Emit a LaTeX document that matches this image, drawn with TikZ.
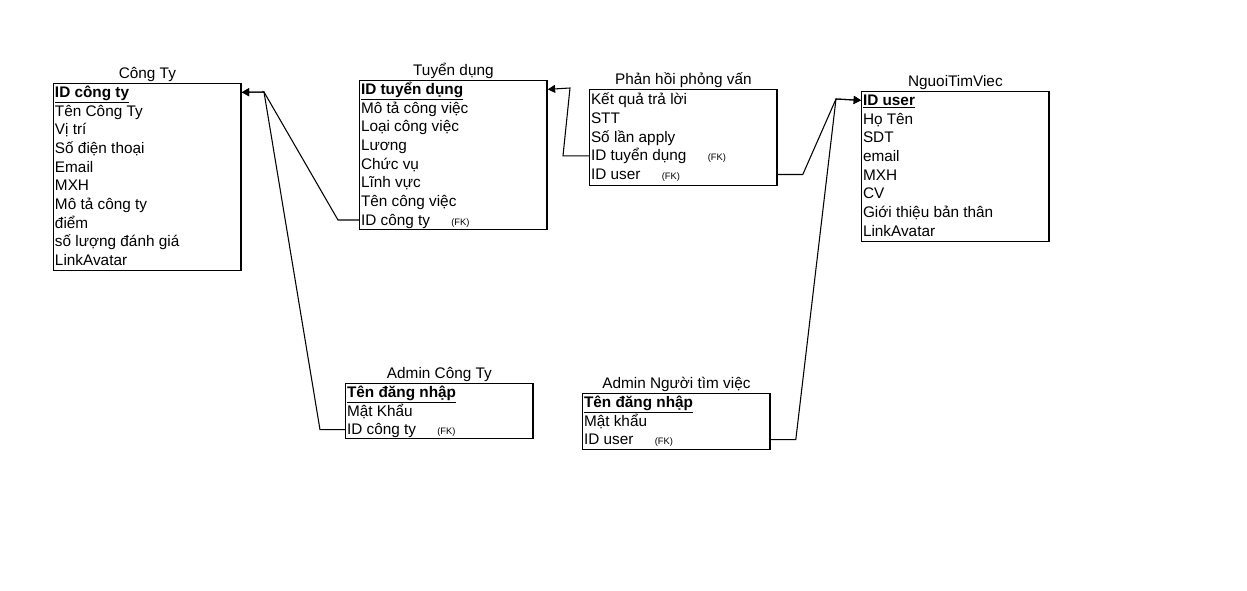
\documentclass[tikz,border=0pt]{standalone}
\usepackage{fontspec}
\setmainfont{Liberation Sans}
\usetikzlibrary{positioning, arrows.meta}
\newcommand{\fk}{\hspace{16pt}{\fontsize{7}{8}\selectfont(FK)}}
\newcommand{\pk}[1]{\underline{\textbf{#1}}}

\begin{document}
\begin{tikzpicture}[x=0.75pt, y=-0.75pt,
  table/.style={draw, line width=1pt, anchor=north west, inner sep=0pt, minimum width=140.6pt},
  title/.style={font=\fontsize{11.5}{13}\selectfont, inner sep=1pt},
  row/.style={anchor=north west, font=\fontsize{11.5}{13}\selectfont, inner xsep=1.5pt,
    inner ysep=1.75pt, outer sep=0pt, text height=9pt, text depth=1.5pt},
  link/.style={line width=0.8pt},
  ref/.style={link, -{Triangle[length=5.5pt, width=6pt]}}]

\useasboundingbox (0,0) rectangle (1247,590);

% Cong Ty
\node[table, minimum height=140.25pt] (ct) at (53,83) {};
\node[title] (ctt) [above=0pt of ct] {Công Ty};
\node[row] (ct1) at (ct.north west) {\pk{ID công ty}};
\node[row] (ct2) [below=0pt of ct1.south west, anchor=north west] {Tên Công Ty};
\node[row] (ct3) [below=0pt of ct2.south west, anchor=north west] {Vị trí};
\node[row] (ct4) [below=0pt of ct3.south west, anchor=north west] {Số điện thoại};
\node[row] (ct5) [below=0pt of ct4.south west, anchor=north west] {Email};
\node[row] (ct6) [below=0pt of ct5.south west, anchor=north west] {MXH};
\node[row] (ct7) [below=0pt of ct6.south west, anchor=north west] {Mô tả công ty};
\node[row] (ct8) [below=0pt of ct7.south west, anchor=north west] {điểm};
\node[row] (ct9) [below=0pt of ct8.south west, anchor=north west] {số lượng đánh giá};
\node[row] (ct10) [below=0pt of ct9.south west, anchor=north west] {LinkAvatar};

% Tuyen dung
\node[table, minimum height=111.75pt] (td) at (359,80) {};
\node[title] (tdt) [above=0pt of td] {Tuyển dụng};
\node[row] (td1) at (td.north west) {\pk{ID tuyển dụng}};
\node[row] (td2) [below=0pt of td1.south west, anchor=north west] {Mô tả công việc};
\node[row] (td3) [below=0pt of td2.south west, anchor=north west] {Loại công việc};
\node[row] (td4) [below=0pt of td3.south west, anchor=north west] {Lương};
\node[row] (td5) [below=0pt of td4.south west, anchor=north west] {Chức vụ};
\node[row] (td6) [below=0pt of td5.south west, anchor=north west] {Lĩnh vực};
\node[row] (td7) [below=0pt of td6.south west, anchor=north west] {Tên công việc};
\node[row] (td8) [below=0pt of td7.south west, anchor=north west] {ID công ty\fk};

% Phan hoi phong van
\node[table, minimum height=72pt] (ph) at (589,89) {};
\node[title] (pht) [above=0pt of ph] {Phản hồi phỏng vấn};
\node[row] (ph1) at ([yshift=-1.1pt]ph.north west) {Kết quả trả lời};
\node[row] (ph2) [below=0pt of ph1.south west, anchor=north west] {STT};
\node[row] (ph3) [below=0pt of ph2.south west, anchor=north west] {Số lần apply};
\node[row] (ph4) [below=0pt of ph3.south west, anchor=north west] {ID tuyển dụng\fk};
\node[row] (ph5) [below=0pt of ph4.south west, anchor=north west] {ID user\fk};

% NguoiTimViec
\node[table, minimum height=112.5pt] (ng) at (861,91) {};
\node[title] (ngt) [above=0pt of ng] {NguoiTimViec};
\node[row] (ng1) at (ng.north west) {\pk{ID user}};
\node[row] (ng2) [below=0pt of ng1.south west, anchor=north west] {Họ Tên};
\node[row] (ng3) [below=0pt of ng2.south west, anchor=north west] {SDT};
\node[row] (ng4) [below=0pt of ng3.south west, anchor=north west] {email};
\node[row] (ng5) [below=0pt of ng4.south west, anchor=north west] {MXH};
\node[row] (ng6) [below=0pt of ng5.south west, anchor=north west] {CV};
\node[row] (ng7) [below=0pt of ng6.south west, anchor=north west] {Giới thiệu bản thân};
\node[row] (ng8) [below=0pt of ng7.south west, anchor=north west] {LinkAvatar};

% Admin Cong Ty
\node[table, minimum height=41.25pt] (ac) at (345,383) {};
\node[title] (act) [above=0pt of ac] {Admin Công Ty};
\node[row] (ac1) at (ac.north west) {\pk{Tên đăng nhập}};
\node[row] (ac2) [below=0pt of ac1.south west, anchor=north west] {Mật Khẩu};
\node[row] (ac3) [below=0pt of ac2.south west, anchor=north west] {ID công ty\fk};

% Admin Nguoi tim viec
\node[table, minimum height=42pt] (an) at (582,393) {};
\node[title] (ant) [above=0pt of an] {Admin Người tìm việc};
\node[row] (an1) at (an.north west) {\pk{Tên đăng nhập}};
\node[row] (an2) [below=0pt of an1.south west, anchor=north west] {Mật khẩu};
\node[row] (an3) [below=0pt of an2.south west, anchor=north west] {ID user\fk};

% links
\coordinate (j1) at (264,92);
\coordinate (j2) at (570,88);
\coordinate (j3) at (836,99);

\draw[ref] (td8.west) -- ++(-21,0) -- (j1) -- (ct.east |- ct1);
\draw[ref] (ac3.west) -- ++(-25,0) -- (j1) -- (ct.east |- ct1);
\draw[ref] (ph4.west) -- ++(-26,0) -- (j2) -- (td.east |- td1);
\draw[ref] (ph.east |- ph5) -- ++(25,0) -- (j3) -- (ng.west |- ng1);
\draw[ref] (an.east |- an3) -- ++(25,0) -- (j3) -- (ng.west |- ng1);

\end{tikzpicture}
\end{document}
